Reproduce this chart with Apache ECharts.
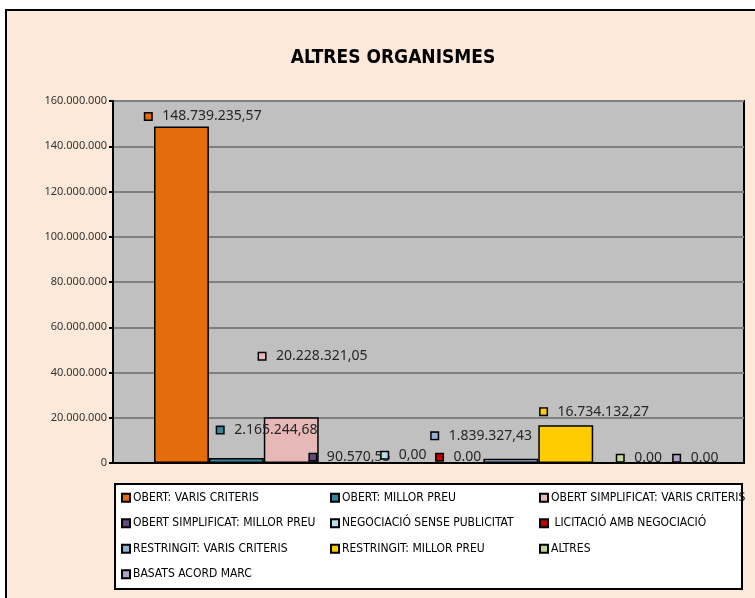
<!DOCTYPE html>
<html>
<head>
<meta charset="utf-8">
<script src="https://cdn.jsdelivr.net/npm/echarts@6/dist/echarts.min.js"></script>
<style>
  html, body { margin: 0; padding: 0; background: #fff; }
  #chart { width: 755px; height: 598px; }
</style>
</head>
<body>
<div id="chart"></div>
<script>
  // dades
  const seriesNames = [
    'OBERT: VARIS CRITERIS',
    'OBERT: MILLOR PREU',
    'OBERT SIMPLIFICAT: VARIS CRITERIS',
    'OBERT SIMPLIFICAT: MILLOR PREU',
    'NEGOCIACIÓ SENSE PUBLICITAT',
    ' LICITACIÓ AMB NEGOCIACIÓ',
    'RESTRINGIT: VARIS CRITERIS',
    'RESTRINGIT: MILLOR PREU',
    'ALTRES',
    'BASATS ACORD MARC'
  ]
  const seriesValues = [148739235.57, 2165244.68, 20228321.05, 90570.55, 0, 0, 1839327.43, 16734132.27, 0, 0]
  const categories = ['']
  const yTicks = [0, 20000000, 40000000, 60000000, 80000000, 100000000, 120000000, 140000000, 160000000]
  // zero labels written with a dot in the original
  const dotZero = [5, 8, 9]

  const colors = ['#e46c0a', '#31859c', '#e6b9b8', '#604a7b', '#b7dee8', '#c00000', '#95b3d7', '#ffcc00', '#c3d69b', '#b3a2c7']
  // label offsets [dx, dy] from the default top position
  const labelShift = [[22, 2], [31, -16], [22, -49], [4, 7], [3, 5], [3, 7], [-29, -11], [29, -1.5], [19, 8], [20.5, 8]]

  function fmtInt (v) {
    return String(Math.round(v)).replace(/\B(?=(\d{3})+(?!\d))/g, '.')
  }
  function fmtVal (v, i) {
    if (v === 0) return dotZero.indexOf(i) >= 0 ? '0.00' : '0,00'
    const parts = v.toFixed(2).split('.')
    return fmtInt(Number(parts[0])) + ',' + parts[1]
  }

  const narrow = '"DejaVu Sans Condensed", "Noto Sans", sans-serif'

  const myChart = echarts.init(document.getElementById('chart'))
  const series = seriesNames.map(function (name, i) {
    return {
      name: name,
      type: 'bar',
      data: [seriesValues[i]],
      barGap: '0%',
      barCategoryGap: '13%',
      itemStyle: { color: colors[i], borderColor: '#000', borderWidth: 1.5 },
      label: {
        show: true,
        position: 'top',
        distance: 5,
        offset: labelShift[i],
        formatter: function (p) {
          return '{m|}{g|}{v|' + fmtVal(p.value, i) + '}'
        },
        rich: {
          m: { width: 6, height: 6, backgroundColor: colors[i], borderColor: '#000', borderWidth: 1.5 },
          g: { width: 11, height: 6 },
          v: { fontFamily: 'Noto Sans', fontSize: 14, color: '#262626' }
        }
      }
    }
  })

  const option = {
    backgroundColor: '#ffffff',
    animation: false,
    color: colors,
    graphic: [
      {
        type: 'rect', z: -10, silent: true,
        shape: { x: 6, y: 10, width: 800, height: 700 },
        style: { fill: '#fde9d9', stroke: '#000', lineWidth: 2 }
      },
      {
        type: 'rect', z: -5, silent: true,
        shape: { x: 115, y: 484, width: 627, height: 105 },
        style: { fill: '#ffffff', stroke: '#000', lineWidth: 2 }
      }
    ],
    title: {
      text: 'ALTRES ORGANISMES',
      left: 388,
      textAlign: 'center',
      top: 44,
      textStyle: { fontFamily: narrow, fontWeight: 'bold', fontSize: 19, color: '#000' }
    },
    legend: {
      data: seriesNames,
      left: 121,
      top: 487,
      width: 700,
      orient: 'horizontal',
      icon: 'rect',
      itemWidth: 8,
      itemHeight: 8,
      itemGap: 4,
      padding: 0,
      textStyle: {
        fontFamily: narrow,
        fontSize: 12,
        color: '#000',
        width: 193,
        height: 21.5,
        lineHeight: 21.5,
        padding: [0, 0, 0, -2]
      }
    },
    grid: {
      left: 113,
      right: 11,
      top: 101,
      bottom: 135,
      show: true,
      backgroundColor: '#c0c0c0',
      borderColor: '#000',
      borderWidth: 2
    },
    xAxis: {
      type: 'category',
      data: categories,
      axisLine: { lineStyle: { color: '#000', width: 2 } },
      axisTick: { show: false },
      axisLabel: { show: false }
    },
    yAxis: {
      type: 'value',
      min: yTicks[0],
      max: yTicks[yTicks.length - 1],
      interval: yTicks[1] - yTicks[0],
      axisLine: { show: true, lineStyle: { color: '#000', width: 2 } },
      axisTick: { show: true, length: 4, lineStyle: { color: '#000', width: 2 } },
      axisLabel: {
        fontFamily: 'Noto Sans',
        fontSize: 11,
        color: '#333',
        margin: 6,
        formatter: function (v) { return fmtInt(v) }
      },
      splitLine: { lineStyle: { color: '#808080', width: 2 } }
    },
    series: series
  }
  myChart.setOption(option)
</script>
</body>
</html>
